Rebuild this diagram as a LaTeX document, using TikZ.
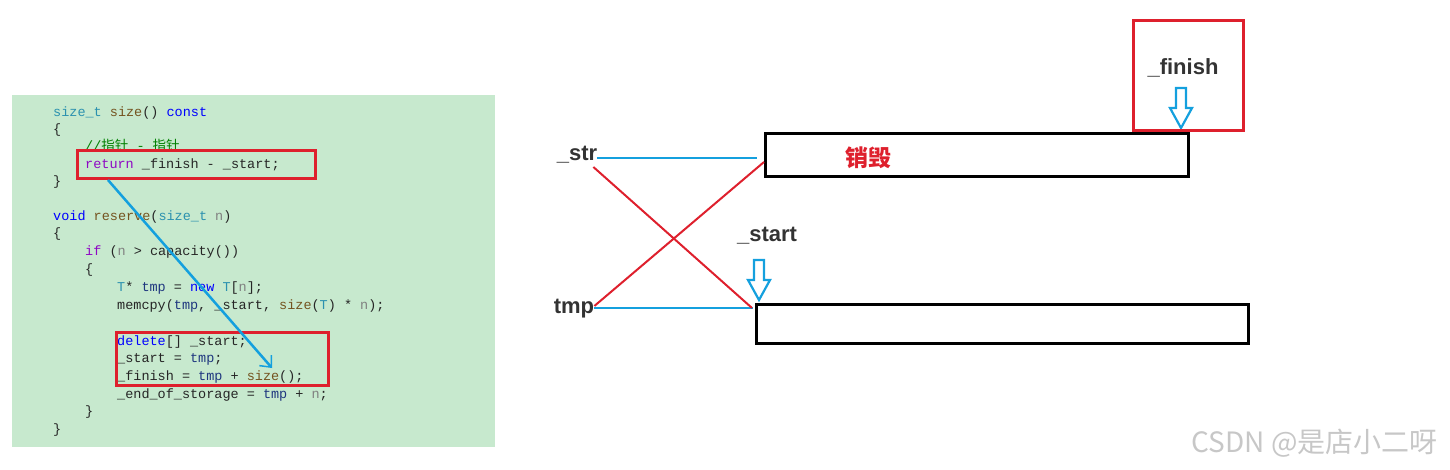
\documentclass[tikz,border=0pt]{standalone}
\usepackage{fontspec}
\usepackage{xcolor}
\usepackage{tikz}
\usetikzlibrary{arrows.meta}

\setmainfont{Liberation Sans}
\newfontfamily\codefont{Liberation Mono}
\newfontfamily\cjk{Noto Sans CJK SC}

\definecolor{codebg}{RGB}{199,233,206}
\definecolor{kw}{RGB}{0,0,255}
\definecolor{ctl}{RGB}{143,8,196}
\definecolor{ty}{RGB}{43,145,175}
\definecolor{fn}{RGB}{116,83,31}
\definecolor{loc}{RGB}{31,55,127}
\definecolor{prm}{RGB}{128,128,128}
\definecolor{cmt}{RGB}{0,128,0}
\definecolor{mark}{RGB}{222,32,45}
\definecolor{ptr}{RGB}{20,160,222}

\tikzset{
  code/.style={anchor=base west, inner sep=0pt, font=\codefont\fontsize{13.5}{16}\selectfont, text=black!85},
  ptrlabel/.style={anchor=base, inner sep=0pt, font=\fontsize{22}{26}\selectfont\bfseries, text=black!80},
  redbox/.style={draw=mark, line width=3pt},
  membox/.style={draw=black, line width=3pt},
  blueline/.style={draw=ptr, line width=2.5pt},
  crossline/.style={draw=mark, line width=2pt},
  pics/hollowdown/.style={code={
    \draw[ptr, line width=2.2pt, line join=miter]
      (-5,0) -- (5,0) -- (5,-20) -- (11,-20) -- (0,-40) -- (-11,-20) -- (-5,-20) -- cycle;
  }}
}

\begin{document}
\begin{tikzpicture}[x=1pt,y=1pt,yscale=-1]
\useasboundingbox (0,0) rectangle (1450,470);

%Shape: Rectangle [code background]
\fill[codebg] (12,95) rectangle (495,447);

% Text Node: code lines
\node[code] (code1) at (53,117) {\textcolor{ty}{size\_t} \textcolor{fn}{size}() \textcolor{kw}{const}};
\node[code] (code2) at (53,134) {\{};
\node[code] (code3) at (85,151) {\textcolor{cmt}{//{\cjk 指针} - {\cjk 指针}}};
\node[code] (code4) at (85,169) {\textcolor{ctl}{return} \_finish - \_start;};
\node[code] (code5) at (53,186) {\}};
\node[code] (code6) at (53,221) {\textcolor{kw}{void} \textcolor{fn}{reserve}(\textcolor{ty}{size\_t} \textcolor{prm}{n})};
\node[code] (code7) at (53,238) {\{};
\node[code] (code8) at (85,256) {\textcolor{ctl}{if} (\textcolor{prm}{n} > capacity())};
\node[code] (code9) at (85,273) {\{};
\node[code] (code10) at (117,291) {\textcolor{ty}{T}* \textcolor{loc}{tmp} = \textcolor{kw}{new} \textcolor{ty}{T}[\textcolor{prm}{n}];};
\node[code] (code11) at (117,309) {memcpy(\textcolor{loc}{tmp}, \_start, \textcolor{fn}{size}(\textcolor{ty}{T}) * \textcolor{prm}{n});};
\node[code] (code12) at (117,345) {\textcolor{kw}{delete}[] \_start;};
\node[code] (code13) at (117,362) {\_start = \textcolor{loc}{tmp};};
\node[code] (code14) at (117,380) {\_finish = \textcolor{loc}{tmp} + \textcolor{fn}{size}();};
\node[code] (code15) at (117,398) {\_end\_of\_storage = \textcolor{loc}{tmp} + \textcolor{prm}{n};};
\node[code] (code16) at (85,415) {\}};
\node[code] (code17) at (53,433) {\}};

%Shape: Rectangle [marks in code]
\draw[redbox] (77,151) rectangle (315,179);
\draw[redbox] (116,332) rectangle (328,385);

%Straight Lines [code arrow]
\coordinate (arrfrom) at (108,180);
\coordinate (arrto) at (272,368);
\draw[blueline, -{Straight Barb[length=9pt,width=16pt,line width=1.5pt]}] (arrfrom) -- (arrto);

%Shape: Rectangle [buffers]
\draw[membox] (765,134) rectangle (1188,177);
\draw[membox] (756,304) rectangle (1248,343);
\coordinate (oldleft) at (757,158);
\coordinate (oldcorner) at (764,162);
\coordinate (newleft) at (753,308);
\coordinate (newcorner) at (752,308);

% Text Node
\node[ptrlabel] (str) at (577,161) {\_str};
\node[ptrlabel] (tmp) at (574,313) {tmp};
\node[ptrlabel] (start) at (767,242) {\_start};
\node[ptrlabel] (finish) at (1183,75) {\_finish};
\node[anchor=center, inner sep=0pt, text=mark, font=\cjk\fontsize{23}{26}\selectfont\bfseries] (destroy) at (868,158) {销毁};

%Straight Lines [pointers]
\draw[blueline] (str.east |- oldleft) -- (oldleft);
\draw[blueline] (tmp.east |- newleft) -- (newleft);

%Straight Lines [cross]
\draw[crossline] ([xshift=-4pt,yshift=6pt]str.base east) -- (newcorner);
\draw[crossline] ([yshift=-7pt]tmp.base east) -- (oldcorner);

%Shape: Arrows [hollow]
\pic at (759,260) {hollowdown};
\pic at (1181,88) {hollowdown};

%Shape: Rectangle [finish mark]
\draw[redbox] (1133,21) rectangle (1243,131);

% Text Node: watermark
\node[anchor=base east, inner sep=0pt, text=black!22, font=\cjk\fontsize{28}{30}\selectfont] (mark) at (1438,452) {CSDN @是店小二呀};

\end{tikzpicture}
\end{document}
